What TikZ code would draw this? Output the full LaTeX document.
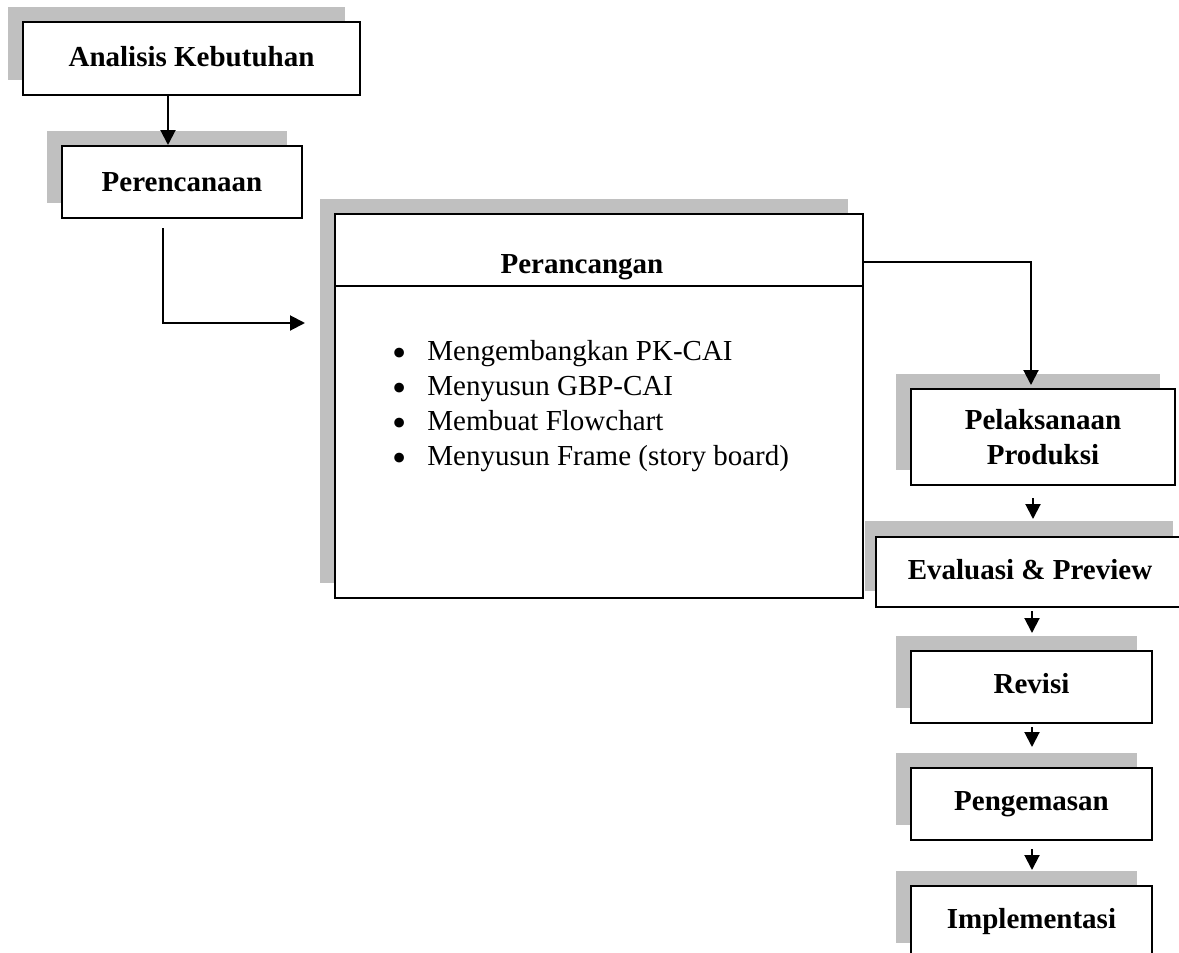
\documentclass[tikz,border=0pt]{standalone}
\usepackage{fontspec}
\usepackage{graphicx}
\setmainfont{Liberation Serif}
\usetikzlibrary{shadows,arrows.meta,calc}
\definecolor{shadowgrey}{HTML}{C0C0C0}
\newcommand{\bigbul}{\makebox[16.5pt][l]{\hspace*{-1pt}\raisebox{-0.22em}[0.45em][0pt]{\scalebox{1.4}{\textbullet}}}}
\begin{document}
\begin{tikzpicture}[x=0.5pt,y=-0.5pt,
  box/.style={draw, line width=1pt, fill=white, rectangle, inner sep=0pt,
    font=\fontsize{14.5pt}{17.5pt}\selectfont\bfseries, align=center},
  shad/.style={general shadow={fill=shadowgrey, draw=none, shadow xshift=-7.5pt, shadow yshift=7.75pt}},
  arr/.style={line width=1pt, -{Triangle[length=7.5pt,width=7.5pt]}},
  plain/.style={inner sep=0pt, font=\fontsize{14.5pt}{17.5pt}\selectfont}
]
\useasboundingbox (0,0) rectangle (1179,953);

% boxes
\node[box, shad, minimum width=168.5pt, minimum height=36.5pt] (ana) at (191.5,58.5) {\raisebox{2.5pt}{Analisis Kebutuhan}};
\node[box, shad, minimum width=120pt, minimum height=36pt] (pere) at (182,182) {Perencanaan};
\node[box, shad, minimum width=264pt, minimum height=192pt] (peran) at (599,406) {};
\coordinate (dv) at (0,286);
\draw[line width=1pt] (peran.west |- dv) -- (peran.east |- dv);
\node[plain, font=\fontsize{14.5pt}{17.5pt}\selectfont\bfseries] (ttl) at (582,267) {Perancangan};
\node[plain, anchor=base west, align=left] (lst) at (394,465)
  {\bigbul Mengembangkan PK-CAI\\
   \bigbul Menyusun GBP-CAI\\
   \bigbul Membuat Flowchart\\
   \bigbul Menyusun Frame (story board)};

\node[box, shad, minimum width=132pt, minimum height=48pt] (pel) at (1043,437) {Pelaksanaan\\Produksi};
\node[box, general shadow={fill=shadowgrey, draw=none, shadow xshift=-5.5pt, shadow yshift=8pt},
  minimum width=154pt, minimum height=35pt] (eva) at (1030,572) {\raisebox{2.5pt}{Evaluasi \& Preview}};
\node[box, shad, minimum width=120.5pt, minimum height=36pt] (rev) at (1031.5,687) {\raisebox{3.5pt}{Revisi}};
\node[box, shad, minimum width=120.5pt, minimum height=36pt] (peng) at (1031.5,804) {\raisebox{3.5pt}{Pengemasan}};
\node[box, shad, minimum width=120.5pt, minimum height=36pt] (imp) at (1031.5,922) {\raisebox{3.5pt}{Implementasi}};

% connectors
\coordinate (c1) at (168,0);
\draw[arr] (ana.south -| c1) -- (pere.north -| c1);
\coordinate (c2) at (163,323);
\draw[arr] ($(pere.south -| c2)+(0,9)$) |- ($(peran.west |- c2)+(-29,0)$);
\coordinate (c3) at (1031,262);
\draw[arr] (peran.east |- c3) -| ($(pel.north -| c3)+(0,-3)$);
\coordinate (c4) at (1033,0);
\draw[arr] ($(pel.south -| c4)+(0,12)$) -- ($(eva.north -| c4)+(0,-17)$);
\coordinate (c5) at (1032,0);
\draw[arr] ($(eva.south -| c5)+(0,3)$) -- ($(rev.north -| c5)+(0,-17)$);
\draw[arr] ($(rev.south -| c5)+(0,3)$) -- ($(peng.north -| c5)+(0,-20)$);
\draw[arr] ($(peng.south -| c5)+(0,8)$) -- ($(imp.north -| c5)+(0,-15)$);
\end{tikzpicture}
\end{document}
